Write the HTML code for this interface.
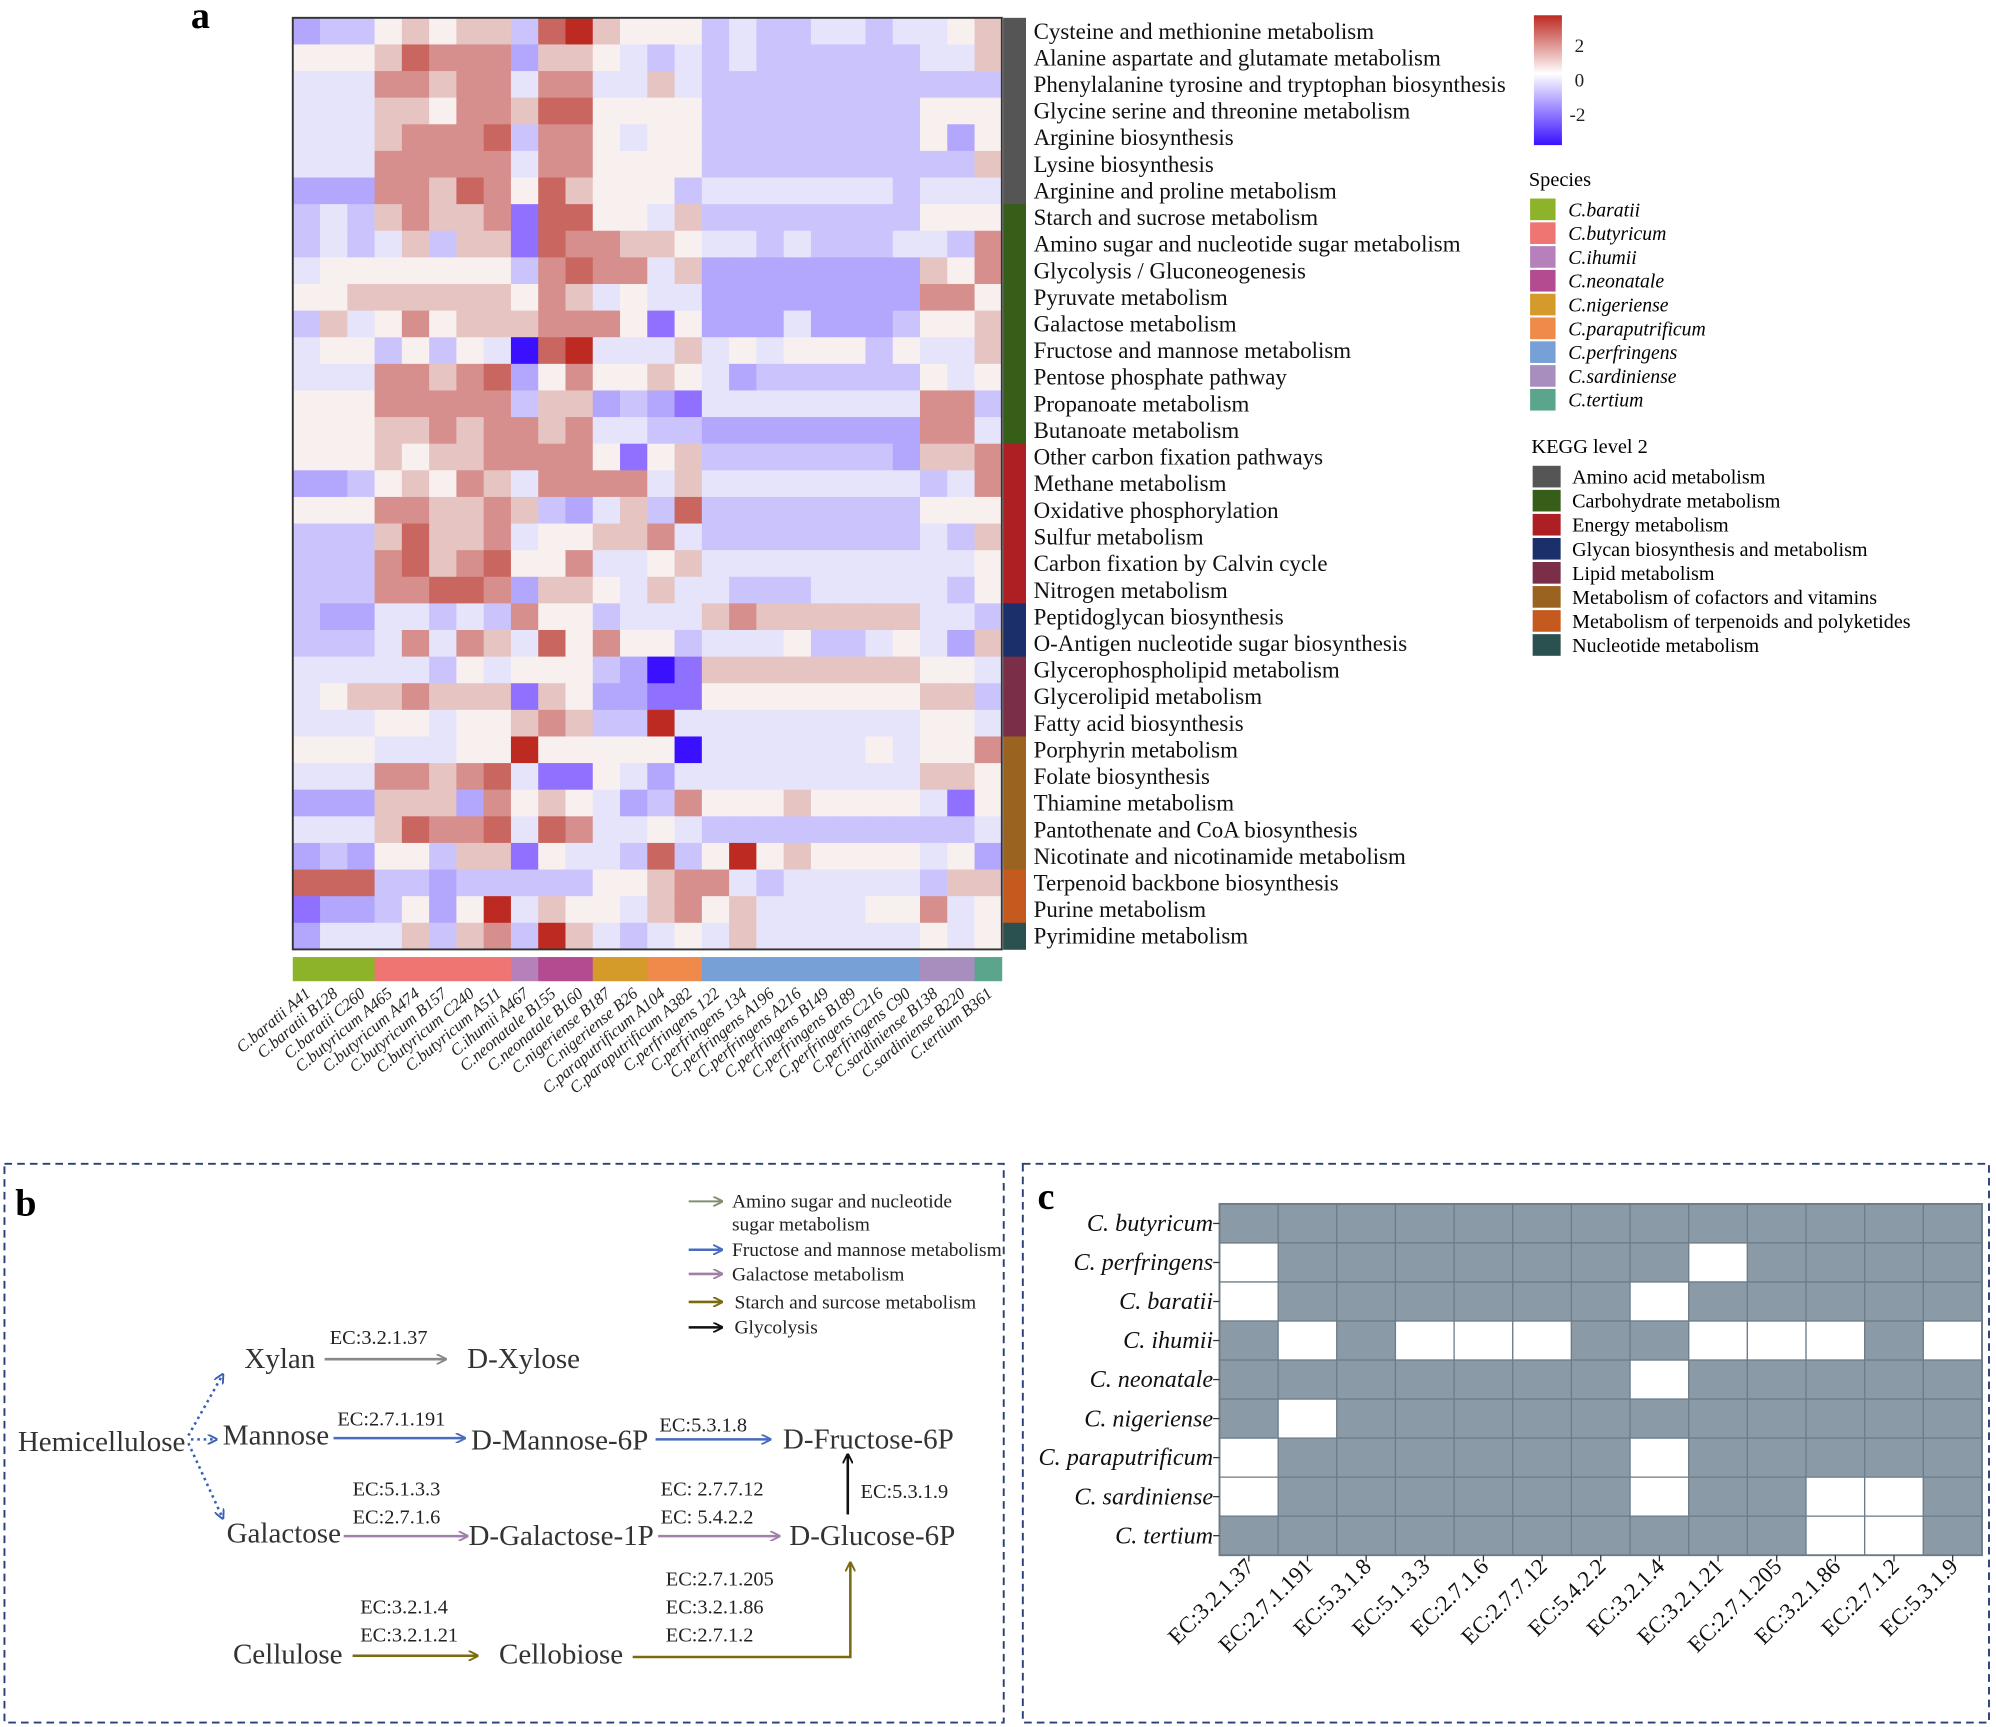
<!DOCTYPE html>
<html><head><meta charset="utf-8">
<style>
html,body{margin:0;padding:0;background:#fff;}
svg{display:block;font-family:"Liberation Serif",serif;}
</style></head>
<body>
<svg id="s" width="1996" height="1727" viewBox="0 0 1568 1357" preserveAspectRatio="none" xmlns="http://www.w3.org/2000/svg">
<rect width="1568" height="1357" fill="#fff"/>
<text x="150" y="22" font-size="30" font-weight="bold">a</text>
<g id="heat"></g>
<rect x="230" y="14" width="557" height="732" fill="none" stroke="#333" stroke-width="1.5"/>
<g id="kegg"></g>
<g id="spec"></g>
<g id="rowlab" font-size="18" fill="#111"></g>
<g id="collab" font-size="13" font-style="italic" fill="#222"></g>

<defs>
<linearGradient id="cg" x1="0" y1="0" x2="0" y2="1">
<stop offset="0" stop-color="#bd2a22"/><stop offset="0.45" stop-color="#ffffff"/><stop offset="1" stop-color="#3a10ff"/>
</linearGradient>
<marker id="ah" markerWidth="8" markerHeight="8" refX="7" refY="4" orient="auto" markerUnits="userSpaceOnUse"><path d="M0,0 L8,4 L0,8" fill="none" stroke="context-stroke" stroke-width="1.5"/></marker>
</defs>
<rect x="1205" y="12" width="22" height="102" fill="url(#cg)"/>
<g font-size="15" fill="#222"><text x="1237" y="41">2</text><text x="1237" y="68">0</text><text x="1233" y="95">-2</text></g>
<text x="1201" y="146" font-size="16">Species</text>
<g id="sleg" font-size="15.5" font-style="italic"></g>
<text x="1203" y="356" font-size="16">KEGG level 2</text>
<g id="kleg" font-size="15.8"></g>

<rect x="3.5" y="914.5" width="785" height="439" fill="none" stroke="#2a3f7a" stroke-width="1.5" stroke-dasharray="6,4"/>
<rect x="803.5" y="914.5" width="759" height="439" fill="none" stroke="#2a3f7a" stroke-width="1.5" stroke-dasharray="6,4"/>
<text x="12" y="955" font-size="30" font-weight="bold">b</text>
<text x="815" y="950" font-size="30" font-weight="bold">c</text>

<g font-size="15.3" fill="#222">
<line x1="541" y1="944" x2="567" y2="944" stroke="#7f8f6f" stroke-width="1.5" marker-end="url(#ah)"/>
<line x1="541" y1="982" x2="567" y2="982" stroke="#4a6cc0" stroke-width="2" marker-end="url(#ah)"/>
<line x1="541" y1="1001" x2="567" y2="1001" stroke="#a080a8" stroke-width="2" marker-end="url(#ah)"/>
<line x1="541" y1="1023" x2="567" y2="1023" stroke="#7a6a10" stroke-width="2" marker-end="url(#ah)"/>
<line x1="541" y1="1043" x2="567" y2="1043" stroke="#111" stroke-width="2" marker-end="url(#ah)"/>
<text x="575" y="949">Amino sugar and nucleotide</text>
<text x="575" y="967">sugar metabolism</text>
<text x="575" y="987">Fructose and mannose metabolism</text>
<text x="575" y="1006">Galactose metabolism</text>
<text x="577" y="1028">Starch and surcose metabolism</text>
<text x="577" y="1048">Glycolysis</text>
</g>
<g font-size="22.8" fill="#333">
<text x="14" y="1140">Hemicellulose</text>
<text x="192" y="1075">Xylan</text>
<text x="367" y="1075">D-Xylose</text>
<text x="175" y="1135">Mannose</text>
<text x="370" y="1139">D-Mannose-6P</text>
<text x="615" y="1138">D-Fructose-6P</text>
<text x="178" y="1212">Galactose</text>
<text x="368" y="1214">D-Galactose-1P</text>
<text x="620" y="1214">D-Glucose-6P</text>
<text x="183" y="1307">Cellulose</text>
<text x="392" y="1307">Cellobiose</text>
</g>
<g font-size="16" fill="#222">
<text x="259" y="1056">EC:3.2.1.37</text>
<text x="265" y="1120">EC:2.7.1.191</text>
<text x="518" y="1125">EC:5.3.1.8</text>
<text x="277" y="1175">EC:5.1.3.3</text>
<text x="277" y="1197">EC:2.7.1.6</text>
<text x="519" y="1175">EC: 2.7.7.12</text>
<text x="519" y="1197">EC: 5.4.2.2</text>
<text x="676" y="1177">EC:5.3.1.9</text>
<text x="283" y="1268">EC:3.2.1.4</text>
<text x="283" y="1290">EC:3.2.1.21</text>
<text x="523" y="1246">EC:2.7.1.205</text>
<text x="523" y="1268">EC:3.2.1.86</text>
<text x="523" y="1290">EC:2.7.1.2</text>
</g>
<g fill="none" stroke-width="2">
<path d="M148,1128 L175,1080" stroke="#3a5fb0" stroke-dasharray="2,3" marker-end="url(#ah)"/>
<path d="M150,1131 L170,1131" stroke="#3a5fb0" stroke-dasharray="2,3" marker-end="url(#ah)"/>
<path d="M148,1134 L175,1193" stroke="#3a5fb0" stroke-dasharray="2,3" marker-end="url(#ah)"/>
<line x1="255" y1="1068" x2="350" y2="1068" stroke="#888" marker-end="url(#ah)"/>
<line x1="262" y1="1130" x2="365" y2="1130" stroke="#4a6cc0" marker-end="url(#ah)"/>
<line x1="515" y1="1131" x2="605" y2="1131" stroke="#4a6cc0" marker-end="url(#ah)"/>
<line x1="270" y1="1207" x2="367" y2="1207" stroke="#a080a8" marker-end="url(#ah)"/>
<line x1="517" y1="1207" x2="612" y2="1207" stroke="#a080a8" marker-end="url(#ah)"/>
<line x1="666" y1="1190" x2="666" y2="1143" stroke="#111" marker-end="url(#ah)"/>
<line x1="277" y1="1301" x2="375" y2="1301" stroke="#7a6a10" marker-end="url(#ah)"/>
<path d="M497,1302 L668,1302 L668,1228" stroke="#7a6a10" marker-end="url(#ah)"/>
</g>

<g id="cgrid"></g>
<g id="crow" font-size="19" font-style="italic" fill="#111" text-anchor="end"></g>
<g id="ccol" font-size="18" fill="#111" text-anchor="end"></g>
</svg>
<script>
var NS="http://www.w3.org/2000/svg";
function el(p,t,a,txt){var e=document.createElementNS(NS,t);for(var k in a)e.setAttribute(k,a[k]);if(txt!=null)e.textContent=txt;document.getElementById(p).appendChild(e);return e;}
var C=["#3a10ff","#9070ff","#b3a6fd","#cbc4fc","#e6e4fb","#f7f0ef","#e6c4c2","#d68f8c","#c96660","#bd2a22"];
var D=[
"23356566389655534334434456",
"55568777266543434333333446",
"44477677477446433333333333",
"44466577688555533333333555",
"44467778377545533333333525",
"44477777477555533333333336",
"22277687586555344444443444",
"34367667188554633333333555",
"34346366187766544343334437",
"45555555378774622222222657",
"55666666576454422222222775",
"36457566677751522242223556",
"45535354089444645455535446",
"44477678257556542333333545",
"55577777366232144444444773",
"55566767767443322222222774",
"55565667777515633333332667",
"22356576477774644444444347",
"55577667632463833333333555",
"33368667455667433333333436",
"33378678557445644444444445",
"33377887266546443334444435",
"32244343755344467666666443",
"33347476485755344453345426",
"44444354555320166666666554",
"45667666165221155555555663",
"44455455676339444444444554",
"55544455955555044444454557",
"44477678411542444444444665",
"22266627565423755565555415",
"44468778487445433333333334",
"23255366154438359565555452",
"88833233333556774344444366",
"12235259465546756444455745",
"24446367396434546444444545"];
var x0=230,y0=14,cw=557/26,rh=732/35;
for(var r=0;r<35;r++)for(var c=0;c<26;c++)el("heat","rect",{x:(x0+c*cw).toFixed(2),y:(y0+r*rh).toFixed(2),width:(cw+0.4).toFixed(2),height:(rh+0.4).toFixed(2),fill:C[+D[r][c]]});
var rows=["Cysteine and methionine metabolism","Alanine aspartate and glutamate metabolism","Phenylalanine tyrosine and tryptophan biosynthesis","Glycine serine and threonine metabolism","Arginine biosynthesis","Lysine biosynthesis","Arginine and proline metabolism","Starch and sucrose metabolism","Amino sugar and nucleotide sugar metabolism","Glycolysis / Gluconeogenesis","Pyruvate metabolism","Galactose metabolism","Fructose and mannose metabolism","Pentose phosphate pathway","Propanoate metabolism","Butanoate metabolism","Other carbon fixation pathways","Methane metabolism","Oxidative phosphorylation","Sulfur metabolism","Carbon fixation by Calvin cycle","Nitrogen metabolism","Peptidoglycan biosynthesis","O-Antigen nucleotide sugar biosynthesis","Glycerophospholipid metabolism","Glycerolipid metabolism","Fatty acid biosynthesis","Porphyrin metabolism","Folate biosynthesis","Thiamine metabolism","Pantothenate and CoA biosynthesis","Nicotinate and nicotinamide metabolism","Terpenoid backbone biosynthesis","Purine metabolism","Pyrimidine metabolism"];
rows.forEach(function(t,i){el("rowlab","text",{x:812,y:(y0+i*rh+rh/2+6).toFixed(1)},t);});
var kg=[[0,7,"#555555"],[7,16,"#365e18"],[16,22,"#ae1f24"],[22,24,"#1b2f6b"],[24,27,"#7a2e47"],[27,32,"#9a6320"],[32,34,"#c55a1e"],[34,35,"#2a5050"]];
kg.forEach(function(k){el("kegg","rect",{x:788,y:(y0+k[0]*rh).toFixed(2),width:18,height:((k[1]-k[0])*rh+0.3).toFixed(2),fill:k[2]});});
var sp=[[3,"#8db32a"],[5,"#ef7572"],[1,"#b680bb"],[2,"#b44a90"],[2,"#d49a2a"],[2,"#ef8a4a"],[8,"#76a0d6"],[2,"#a78ebf"],[1,"#5aa58b"]];
var cc=0;sp.forEach(function(s){el("spec","rect",{x:(x0+cc*cw).toFixed(2),y:752,width:(s[0]*cw+0.3).toFixed(2),height:19,fill:s[1]});cc+=s[0];});
var cl=["C.baratii A41","C.baratii B128","C.baratii C260","C.butyricum A465","C.butyricum A474","C.butyricum B157","C.butyricum C240","C.butyricum A511","C.ihumii A467","C.neonatale B155","C.neonatale B160","C.nigeriense B187","C.nigeriense B26","C.paraputrificum A104","C.paraputrificum A382","C.perfringens 122","C.perfringens 134","C.perfringens A196","C.perfringens A216","C.perfringens B149","C.perfringens B189","C.perfringens C216","C.perfringens C90","C.sardiniense B138","C.sardiniense B220","C.tertium B361"];
cl.forEach(function(t,i){var x=x0+i*cw+cw/2+4,y=782;el("collab","text",{x:x.toFixed(1),y:y,"text-anchor":"end",transform:"rotate(-40 "+x.toFixed(1)+" "+y+")"},t);});
var sl=[["C.baratii","#8db32a"],["C.butyricum","#ef7572"],["C.ihumii","#b680bb"],["C.neonatale","#b44a90"],["C.nigeriense","#d49a2a"],["C.paraputrificum","#ef8a4a"],["C.perfringens","#76a0d6"],["C.sardiniense","#a78ebf"],["C.tertium","#5aa58b"]];
sl.forEach(function(s,i){var y=156+i*18.7;el("sleg","rect",{x:1202,y:y,width:20,height:17,fill:s[1]});el("sleg","text",{x:1232,y:y+14},s[0]);});
var kl=[["Amino acid metabolism","#555555"],["Carbohydrate metabolism","#365e18"],["Energy metabolism","#ae1f24"],["Glycan biosynthesis and metabolism","#1b2f6b"],["Lipid metabolism","#7a2e47"],["Metabolism of cofactors and vitamins","#9a6320"],["Metabolism of terpenoids and polyketides","#c55a1e"],["Nucleotide metabolism","#2a5050"]];
kl.forEach(function(s,i){var y=366+i*18.9;el("kleg","rect",{x:1204,y:y,width:22,height:17,fill:s[1]});el("kleg","text",{x:1235,y:y+14},s[0]);});
var gx=958,gy=946,gw=599/13,gh=276/9;
var W={1:[1,9],2:[1,8],3:[2,4,5,6,9,10,11,13],4:[8],5:[2],6:[1,8],7:[1,8,11,12],8:[11,12]};
for(var r=0;r<9;r++)for(var c=0;c<13;c++){var w=(W[r]||[]).indexOf(c+1)>=0;el("cgrid","rect",{x:(gx+c*gw).toFixed(2),y:(gy+r*gh).toFixed(2),width:gw.toFixed(2),height:gh.toFixed(2),fill:w?"#ffffff":"#8a9aa6",stroke:"#6c7c88","stroke-width":1});}
el("cgrid","rect",{x:gx,y:gy,width:599,height:276,fill:"none",stroke:"#6c7c88","stroke-width":1.5});
var cr=["C. butyricum","C. perfringens","C. baratii","C. ihumii","C. neonatale","C. nigeriense","C. paraputrificum","C. sardiniense","C. tertium"];
cr.forEach(function(t,i){el("crow","text",{x:953,y:(gy+i*gh+gh/2+6).toFixed(1)},t);el("cgrid","line",{x1:953,x2:958,y1:gy+i*gh+gh/2,y2:gy+i*gh+gh/2,stroke:"#333"});});
var ccl=["EC:3.2.1.37","EC:2.7.1.191","EC:5.3.1.8","EC:5.1.3.3","EC:2.7.1.6","EC:2.7.7.12","EC:5.4.2.2","EC:3.2.1.4","EC:3.2.1.21","EC:2.7.1.205","EC:3.2.1.86","EC:2.7.1.2","EC:5.3.1.9"];
ccl.forEach(function(t,i){var x=gx+i*gw+gw/2+5,y=1232;el("cgrid","line",{x1:x-5,x2:x-5,y1:1222,y2:1227,stroke:"#333"});el("ccol","text",{x:x.toFixed(1),y:y,transform:"rotate(-45 "+x.toFixed(1)+" "+y+")"},t);});
</script>
</body></html>
